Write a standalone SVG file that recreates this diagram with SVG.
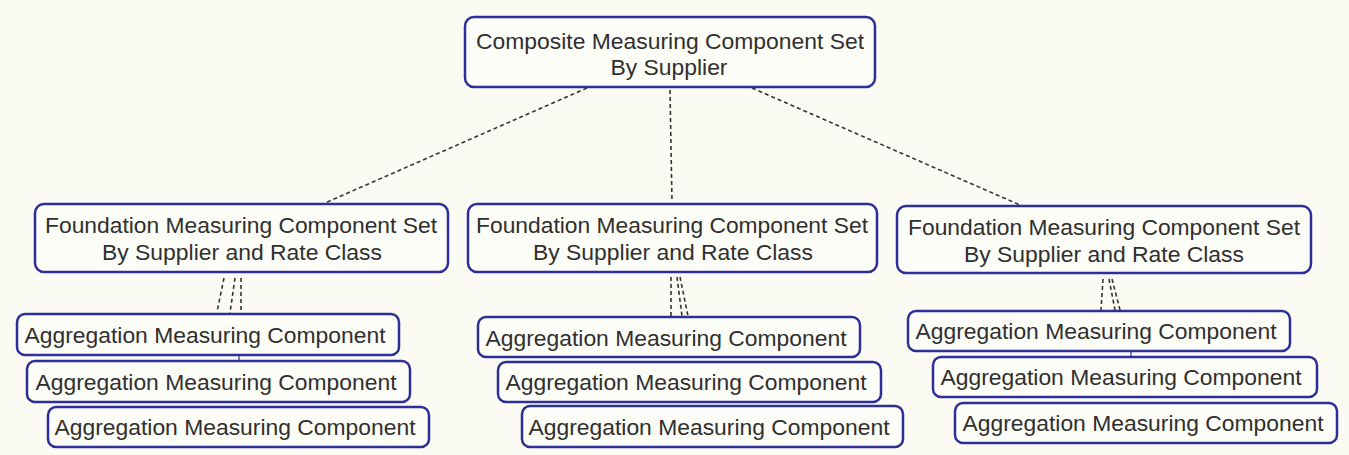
<svg xmlns="http://www.w3.org/2000/svg" width="1349" height="455" viewBox="0 0 1349 455">
<style>
.bg{fill:#fbfbf4}
.box{fill:#fdfdf8;stroke:#2e2e98;stroke-width:2.5}
.t{font-family:"Liberation Sans",Arial,sans-serif;font-size:22px;fill:#2f2f2f;text-anchor:middle}
.d{stroke:#333;stroke-width:1.6;stroke-dasharray:4 3;fill:none}
.s{stroke:#2e2e98;stroke-width:1.2;fill:none}
</style>
<rect class="bg" x="0" y="0" width="1349" height="455"/>
<g id="connectors">
<line class="d" x1="587" y1="88" x2="325" y2="203"/>
<line class="d" x1="670" y1="90" x2="672" y2="202"/>
<line class="d" x1="752" y1="88" x2="1020" y2="205"/>
<line class="d" x1="224" y1="278" x2="217" y2="312"/>
<line class="d" x1="235" y1="278" x2="230" y2="313"/>
<line class="d" x1="241" y1="278" x2="241" y2="313"/>
<line class="s" x1="239" y1="355" x2="239" y2="361"/>
<line class="d" x1="671" y1="277" x2="671" y2="316"/>
<line class="d" x1="677" y1="277" x2="682" y2="316"/>
<line class="d" x1="680" y1="277" x2="688" y2="316"/>
<line class="d" x1="1103" y1="279" x2="1101" y2="310"/>
<line class="d" x1="1109" y1="279" x2="1115" y2="310"/>
<line class="d" x1="1112" y1="279" x2="1120" y2="310"/>
<line class="s" x1="1131" y1="351" x2="1131" y2="357"/>
</g>
<g id="composite">
<rect class="box" x="465" y="17" width="410" height="70" rx="9"/>
<text class="t" x="670" y="49" textLength="388" lengthAdjust="spacingAndGlyphs">Composite Measuring Component Set</text>
<text class="t" x="669" y="75" textLength="117" lengthAdjust="spacingAndGlyphs">By Supplier</text>
</g>
<g id="foundation1">
<rect class="box" x="35" y="204" width="413" height="68" rx="9"/>
<text class="t" x="241" y="233" textLength="392" lengthAdjust="spacingAndGlyphs">Foundation Measuring Component Set</text>
<text class="t" x="242" y="260" textLength="280" lengthAdjust="spacingAndGlyphs">By Supplier and Rate Class</text>
</g>
<g id="foundation2">
<rect class="box" x="468" y="204" width="409" height="68" rx="9"/>
<text class="t" x="672" y="233" textLength="392" lengthAdjust="spacingAndGlyphs">Foundation Measuring Component Set</text>
<text class="t" x="673" y="260" textLength="280" lengthAdjust="spacingAndGlyphs">By Supplier and Rate Class</text>
</g>
<g id="foundation3">
<rect class="box" x="897" y="206" width="414" height="67" rx="9"/>
<text class="t" x="1104" y="235" textLength="392" lengthAdjust="spacingAndGlyphs">Foundation Measuring Component Set</text>
<text class="t" x="1104" y="262" textLength="280" lengthAdjust="spacingAndGlyphs">By Supplier and Rate Class</text>
</g>
<g id="agg1a">
<rect class="box" x="17" y="314" width="382" height="41" rx="8"/>
<text class="t" x="205" y="343" textLength="361" lengthAdjust="spacingAndGlyphs">Aggregation Measuring Component</text>
</g>
<g id="agg1b">
<rect class="box" x="27" y="361" width="383" height="41" rx="8"/>
<text class="t" x="216" y="390" textLength="361" lengthAdjust="spacingAndGlyphs">Aggregation Measuring Component</text>
</g>
<g id="agg1c">
<rect class="box" x="48" y="407" width="381" height="40" rx="8"/>
<text class="t" x="235" y="435" textLength="361" lengthAdjust="spacingAndGlyphs">Aggregation Measuring Component</text>
</g>
<g id="agg2a">
<rect class="box" x="478" y="317" width="382" height="40" rx="8"/>
<text class="t" x="666" y="346" textLength="361" lengthAdjust="spacingAndGlyphs">Aggregation Measuring Component</text>
</g>
<g id="agg2b">
<rect class="box" x="498" y="362" width="383" height="40" rx="8"/>
<text class="t" x="686" y="390" textLength="361" lengthAdjust="spacingAndGlyphs">Aggregation Measuring Component</text>
</g>
<g id="agg2c">
<rect class="box" x="522" y="406" width="381" height="41" rx="8"/>
<text class="t" x="709" y="435" textLength="361" lengthAdjust="spacingAndGlyphs">Aggregation Measuring Component</text>
</g>
<g id="agg3a">
<rect class="box" x="908" y="311" width="382" height="40" rx="8"/>
<text class="t" x="1096" y="339" textLength="361" lengthAdjust="spacingAndGlyphs">Aggregation Measuring Component</text>
</g>
<g id="agg3b">
<rect class="box" x="933" y="357" width="384" height="40" rx="8"/>
<text class="t" x="1121" y="385" textLength="361" lengthAdjust="spacingAndGlyphs">Aggregation Measuring Component</text>
</g>
<g id="agg3c">
<rect class="box" x="955" y="403" width="382" height="40" rx="8"/>
<text class="t" x="1143" y="431" textLength="361" lengthAdjust="spacingAndGlyphs">Aggregation Measuring Component</text>
</g>
</svg>
